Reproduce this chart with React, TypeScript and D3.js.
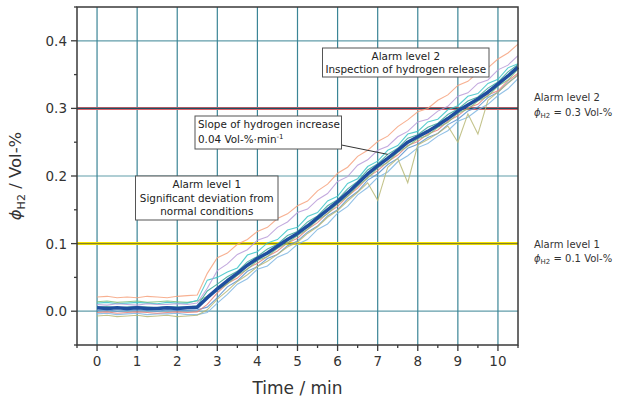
import * as d3 from "d3";

// time axis (min), shared by all sensor traces
const TIME = [0, 0.25, 0.5, 0.75, 1, 1.25, 1.5, 1.75, 2, 2.25, 2.5, 2.75, 3, 3.25, 3.5, 3.75, 4, 4.25, 4.5, 4.75, 5, 5.25, 5.5, 5.75, 6, 6.25, 6.5, 6.75, 7, 7.25, 7.5, 7.75, 8, 8.25, 8.5, 8.75, 9, 9.25, 9.5, 9.75, 10, 10.25, 10.5];

// individual sensor traces, phi_H2 in Vol-%
const SENSOR_ORANGE = [0.021, 0.022, 0.020, 0.021, 0.020, 0.022, 0.021, 0.020, 0.022, 0.023, 0.024, 0.056, 0.079, 0.086, 0.099, 0.106, 0.118, 0.124, 0.137, 0.144, 0.156, 0.163, 0.178, 0.188, 0.204, 0.213, 0.229, 0.238, 0.251, 0.259, 0.273, 0.283, 0.295, 0.300, 0.312, 0.320, 0.334, 0.340, 0.353, 0.360, 0.373, 0.382, 0.395];
const SENSOR_LAVENDER = [0.010, 0.009, 0.011, 0.010, 0.009, 0.011, 0.010, 0.010, 0.011, 0.010, 0.012, 0.034, 0.060, 0.070, 0.084, 0.091, 0.105, 0.110, 0.124, 0.132, 0.146, 0.151, 0.165, 0.174, 0.192, 0.199, 0.216, 0.224, 0.238, 0.244, 0.258, 0.266, 0.280, 0.284, 0.296, 0.303, 0.318, 0.323, 0.337, 0.342, 0.357, 0.364, 0.378];
const SENSOR_CYAN = [0.012, 0.013, 0.011, 0.012, 0.013, 0.012, 0.011, 0.013, 0.012, 0.012, 0.016, 0.046, 0.050, 0.058, 0.064, 0.083, 0.088, 0.101, 0.106, 0.120, 0.124, 0.140, 0.146, 0.163, 0.170, 0.189, 0.196, 0.214, 0.222, 0.238, 0.245, 0.262, 0.266, 0.280, 0.284, 0.298, 0.304, 0.318, 0.322, 0.337, 0.343, 0.360, 0.366];
const SENSOR_GREEN = [0.014, 0.015, 0.013, 0.014, 0.015, 0.013, 0.014, 0.015, 0.014, 0.013, 0.015, 0.022, 0.031, 0.040, 0.053, 0.062, 0.075, 0.081, 0.093, 0.101, 0.112, 0.121, 0.135, 0.144, 0.159, 0.170, 0.185, 0.197, 0.212, 0.220, 0.235, 0.244, 0.255, 0.260, 0.272, 0.279, 0.293, 0.299, 0.311, 0.318, 0.333, 0.342, 0.358];
const SENSOR_OLIVE = [-0.007, -0.006, -0.008, -0.007, -0.006, -0.008, -0.007, -0.006, -0.008, -0.007, -0.006, 0.002, 0.018, 0.030, 0.044, 0.054, 0.066, 0.074, 0.084, 0.095, 0.102, 0.115, 0.125, 0.139, 0.149, 0.163, 0.176, 0.190, 0.164, 0.213, 0.226, 0.190, 0.246, 0.254, 0.263, 0.274, 0.250, 0.292, 0.262, 0.312, 0.324, 0.337, 0.350];
const SENSOR_LIGHTBLUE = [-0.004, -0.003, -0.005, -0.004, -0.003, -0.005, -0.004, -0.004, -0.003, -0.005, -0.005, -0.002, 0.012, 0.025, 0.040, 0.048, 0.062, 0.067, 0.080, 0.086, 0.099, 0.106, 0.121, 0.129, 0.145, 0.155, 0.172, 0.183, 0.198, 0.206, 0.221, 0.230, 0.242, 0.248, 0.259, 0.267, 0.281, 0.287, 0.298, 0.306, 0.319, 0.329, 0.344];
const SENSOR_PINK = [-0.002, -0.001, -0.003, -0.002, -0.001, -0.002, -0.003, -0.002, -0.001, -0.002, -0.001, 0.010, 0.027, 0.041, 0.049, 0.063, 0.071, 0.081, 0.089, 0.101, 0.108, 0.121, 0.131, 0.145, 0.155, 0.170, 0.182, 0.198, 0.208, 0.221, 0.231, 0.245, 0.251, 0.262, 0.268, 0.281, 0.289, 0.301, 0.306, 0.320, 0.326, 0.341, 0.352];
const SENSOR_TEAL = [0.006, 0.007, 0.005, 0.006, 0.007, 0.006, 0.005, 0.007, 0.006, 0.006, 0.008, 0.030, 0.040, 0.051, 0.059, 0.073, 0.081, 0.092, 0.099, 0.112, 0.118, 0.132, 0.141, 0.156, 0.165, 0.181, 0.192, 0.209, 0.218, 0.232, 0.241, 0.256, 0.261, 0.272, 0.278, 0.291, 0.299, 0.311, 0.317, 0.330, 0.339, 0.354, 0.365];
const SENSOR_STEEL = [0.001, 0.002, 0.000, 0.001, 0.002, 0.001, 0.000, 0.002, 0.001, 0.001, 0.002, 0.006, 0.020, 0.036, 0.045, 0.059, 0.066, 0.078, 0.084, 0.097, 0.104, 0.117, 0.126, 0.141, 0.150, 0.166, 0.177, 0.194, 0.203, 0.217, 0.226, 0.241, 0.247, 0.257, 0.263, 0.276, 0.284, 0.296, 0.302, 0.316, 0.324, 0.338, 0.349];

// mean of all sensors
const MEAN = [0.005, 0.004, 0.005, 0.004, 0.005, 0.004, 0.004, 0.005, 0.004, 0.005, 0.006, 0.020, 0.033, 0.045, 0.056, 0.068, 0.078, 0.086, 0.096, 0.106, 0.115, 0.126, 0.138, 0.150, 0.162, 0.175, 0.189, 0.203, 0.215, 0.226, 0.238, 0.250, 0.258, 0.266, 0.275, 0.285, 0.296, 0.305, 0.314, 0.324, 0.336, 0.348, 0.361];

const X_TICKS = [0, 1, 2, 3, 4, 5, 6, 7, 8, 9, 10];
const X_MINOR = [-0.5, 0.5, 1.5, 2.5, 3.5, 4.5, 5.5, 6.5, 7.5, 8.5, 9.5, 10.5];
const Y_TICKS = [0, 0.1, 0.2, 0.3, 0.4];
const Y_MINOR = [-0.05, 0.05, 0.15, 0.25, 0.35, 0.45];
const GRID_Y = [0, 0.2, 0.4];
const ALARM_LEVELS = [0.1, 0.3];

const FONT = "DejaVu Sans, Verdana, sans-serif";

const traces = [
  { key: "lightblue", values: SENSOR_LIGHTBLUE, color: "#7fb6e2" },
  { key: "steel", values: SENSOR_STEEL, color: "#5a92cf" },
  { key: "olive", values: SENSOR_OLIVE, color: "#b9b877" },
  { key: "pink", values: SENSOR_PINK, color: "#e8807a" },
  { key: "green", values: SENSOR_GREEN, color: "#7cbf7a" },
  { key: "teal", values: SENSOR_TEAL, color: "#3aa796" },
  { key: "cyan", values: SENSOR_CYAN, color: "#3cc6c8" },
  { key: "lavender", values: SENSOR_LAVENDER, color: "#b89bd8" },
  { key: "orange", values: SENSOR_ORANGE, color: "#f6a27e" },
];

export default function App() {
  const x = d3.scaleLinear().domain([-0.5, 10.5]).range([77, 518]);
  const y = d3.scaleLinear().domain([-0.05, 0.45]).range([345, 7]);
  const line = d3
    .line<number>()
    .x((_, i) => x(TIME[i]))
    .y((d) => y(d));

  const [x0, x1] = x.range();
  const [y0, y1] = y.range();
  const grid = "#3b8596";
  const ink = "#3a3a3a";

  return (
    <svg
      width={621}
      height={398}
      style={{ position: "absolute", left: 0, top: 0, background: "#fff" }}
      fontFamily={FONT}
    >
      {/* grid */}
      {X_TICKS.map((t) => (
        <line key={`gx${t}`} x1={x(t)} x2={x(t)} y1={y1} y2={y0} stroke={grid} strokeWidth={1.2} />
      ))}
      {GRID_Y.map((v) => (
        <line key={`gy${v}`} x1={x0} x2={x1} y1={y(v)} y2={y(v)} stroke={grid} strokeWidth={1.2} opacity={0.8} />
      ))}

      {/* alarm thresholds */}
      <line x1={x0} x2={x1} y1={y(ALARM_LEVELS[0])} y2={y(ALARM_LEVELS[0])} stroke="#f2e200" strokeWidth={3} />
      <line x1={x0} x2={x1} y1={y(ALARM_LEVELS[0])} y2={y(ALARM_LEVELS[0])} stroke="#5a5a3a" strokeWidth={0.8} />
      <line x1={x0} x2={x1} y1={y(ALARM_LEVELS[1])} y2={y(ALARM_LEVELS[1])} stroke="#d9646a" strokeWidth={3} />
      <line x1={x0} x2={x1} y1={y(ALARM_LEVELS[1])} y2={y(ALARM_LEVELS[1])} stroke="#1d4f63" strokeWidth={1.4} />

      {/* sensor traces */}
      {traces.map((s) => (
        <path key={s.key} d={line(s.values) ?? ""} fill="none" stroke={s.color} strokeWidth={1.1} strokeOpacity={0.85} />
      ))}
      <path d={line(MEAN) ?? ""} fill="none" stroke="#1f4f9e" strokeWidth={3.5} strokeLinejoin="round" />

      {/* frame */}
      <rect x={x0} y={y1} width={x1 - x0} height={y0 - y1} fill="none" stroke={ink} strokeWidth={1.5} />

      {/* x axis ticks */}
      {X_TICKS.map((t) => (
        <g key={`xt${t}`}>
          <line x1={x(t)} x2={x(t)} y1={y0} y2={y0 + 6} stroke={ink} strokeWidth={1.3} />
          <text x={x(t)} y={366} textAnchor="middle" fontSize={13.5} fill="#333">
            {t}
          </text>
        </g>
      ))}
      {X_MINOR.map((t) => (
        <line key={`xm${t}`} x1={x(t)} x2={x(t)} y1={y0} y2={y0 + 3} stroke={ink} strokeWidth={1.3} />
      ))}

      {/* y axis ticks */}
      {Y_TICKS.map((v) => (
        <g key={`yt${v}`}>
          <line x1={x0 - 6} x2={x0} y1={y(v)} y2={y(v)} stroke={ink} strokeWidth={1.3} />
          <text x={67} y={y(v) + 5} textAnchor="end" fontSize={13.5} fill="#333">
            {d3.format(".1f")(v)}
          </text>
        </g>
      ))}
      {Y_MINOR.map((v) => (
        <line key={`ym${v}`} x1={x0 - 3} x2={x0} y1={y(v)} y2={y(v)} stroke={ink} strokeWidth={1.3} />
      ))}

      {/* axis titles */}
      <text x={(x0 + x1) / 2} y={394} textAnchor="middle" fontSize={17} fill="#333">
        Time / min
      </text>
      <text transform={`translate(21,${(y0 + y1) / 2}) rotate(-90)`} textAnchor="middle" fontSize={16.5} fill="#333">
        <tspan fontStyle="italic">ϕ</tspan>
        <tspan fontSize={11} dy={4}>H2</tspan>
        <tspan dy={-4}> / Vol-%</tspan>
      </text>

      {/* annotation: alarm level 1 */}
      <rect x={135.5} y={176} width={142.5} height={44} fill="#fff" stroke="#555" strokeWidth={1} />
      <text x={206.8} textAnchor="middle" fontSize={10.4} fill="#222">
        <tspan x={206.8} y={188.3}>Alarm level 1</tspan>
        <tspan x={206.8} y={201.7}>Significant deviation from</tspan>
        <tspan x={206.8} y={215}>normal conditions</tspan>
      </text>

      {/* annotation: slope */}
      <line x1={341.5} y1={145} x2={x(7.25)} y2={y(0.232)} stroke="#333" strokeWidth={1} />
      <rect x={195} y={116} width={146.5} height={33} fill="#fff" stroke="#555" strokeWidth={1} />
      <text fontSize={10.4} fill="#222">
        <tspan x={198} y={128.3}>Slope of hydrogen increase</tspan>
        <tspan x={198} y={143.3}>0.04 Vol-%·min</tspan>
        <tspan fontSize={7} dy={-4}>-1</tspan>
      </text>

      {/* annotation: alarm level 2 */}
      <rect x={322.5} y={48} width={166.5} height={29} fill="#fff" stroke="#555" strokeWidth={1} />
      <text textAnchor="middle" fontSize={10.4} fill="#222">
        <tspan x={405.8} y={59.5}>Alarm level 2</tspan>
        <tspan x={405.8} y={73.3}>Inspection of hydrogen release</tspan>
      </text>

      {/* right-hand alarm labels */}
      <text fontSize={10} fill="#333">
        <tspan x={534} y={100.8}>Alarm level 2</tspan>
      </text>
      <text x={534} y={115.5} fontSize={10} fill="#333">
        <tspan fontStyle="italic">ϕ</tspan>
        <tspan fontSize={7} dy={2}>H2</tspan>
        <tspan dy={-2}> = 0.3 Vol-%</tspan>
      </text>
      <text fontSize={10} fill="#333">
        <tspan x={534} y={248.3}>Alarm level 1</tspan>
      </text>
      <text x={534} y={262} fontSize={10} fill="#333">
        <tspan fontStyle="italic">ϕ</tspan>
        <tspan fontSize={7} dy={2}>H2</tspan>
        <tspan dy={-2}> = 0.1 Vol-%</tspan>
      </text>
    </svg>
  );
}
